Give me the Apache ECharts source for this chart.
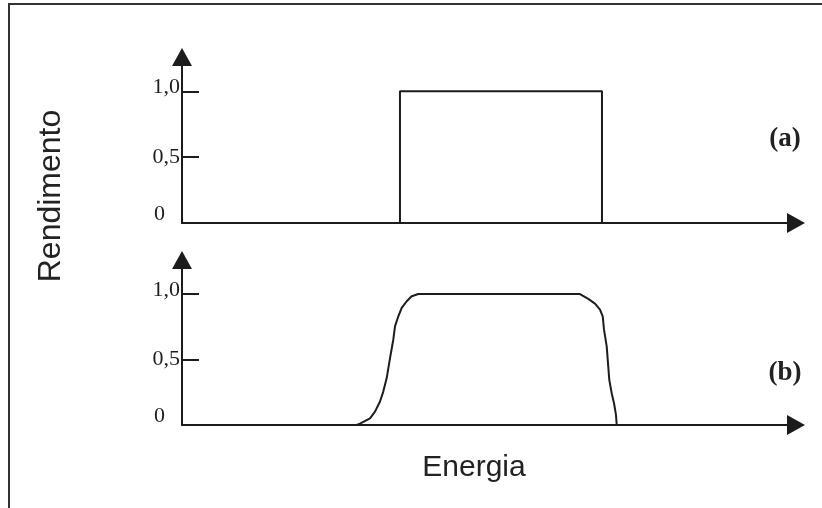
<!DOCTYPE html>
<html>
<head>
<meta charset="utf-8">
<script src="https://cdn.jsdelivr.net/npm/echarts@6/dist/echarts.min.js"></script>
<style>
  html, body { margin: 0; padding: 0; background: #fff; }
  #chart { width: 822px; height: 508px; }
</style>
</head>
<body>
<div id="chart"></div>
<script>
// Ideal (a) and real (b) yield vs. energy windows
const yTickValues = [0, 0.5, 1];
const yTickLabels = ['0', '0,5', '1,0'];
const panelLabels = ['(a)', '(b)'];
const yAxisTitle = 'Rendimento';
const xAxisTitle = 'Energia';

// (a) ideal rectangular window
const rectEnergy = [35.5, 35.5, 68.4, 68.4];
const rectYield = [0, 1, 1, 0];

// (b) real window with soft edges
const curveEnergy = [28.45, 28.99, 30.62, 31.43, 32.25, 32.78, 33.34, 33.88, 34.41, 34.69, 35.23, 35.78, 36.60, 37.41, 38.49,
                     64.82, 66.17, 67.26, 68.08, 68.52, 68.73, 69.17, 69.59, 69.98, 70.36, 70.68, 70.80];
const curveYield = [0, 0.01, 0.051, 0.102, 0.179, 0.255, 0.358, 0.511, 0.651, 0.753, 0.830, 0.894, 0.945, 0.983, 1.0,
                    1.0, 0.963, 0.927, 0.881, 0.830, 0.728, 0.600, 0.345, 0.243, 0.166, 0.077, 0];

const ink = '#1c1c1c';
const serif = "'Liberation Serif', 'DejaVu Serif', serif";
const sans = "'Liberation Sans', Arial, sans-serif";

function pairs(xs, ys) { return xs.map((x, i) => [x, ys[i]]); }

function yLabel(v) {
  const i = yTickValues.indexOf(v);
  const txt = i >= 0 ? yTickLabels[i] : '';
  if (v === 0) return '{z|' + txt + '}';
  if (v === 1) return '{o|' + txt + '}';
  return '{h|' + txt + '}';
}

function makeX(gridIndex) {
  return {
    type: 'value', gridIndex, min: 0, max: 100,
    axisLine: { show: true, symbol: ['none', 'triangle'], symbolSize: [20, 18],
                lineStyle: { color: ink, width: 2 } },
    axisTick: { show: false }, axisLabel: { show: false }, splitLine: { show: false }
  };
}

function makeY(gridIndex) {
  const base = { fontFamily: serif, fontSize: 22, color: '#1e1e1e' };
  return {
    type: 'value', gridIndex, min: 0, max: 1.26,
    axisLine: { show: true, symbol: ['none', 'triangle'], symbolSize: [20, 18],
                lineStyle: { color: ink, width: 2 } },
    axisTick: { show: true, inside: true, length: 17, customValues: yTickValues,
                lineStyle: { color: ink, width: 2 } },
    axisLabel: {
      show: true, margin: 2, customValues: yTickValues, formatter: yLabel,
      rich: {
        z: Object.assign({ padding: [0, 15, 18, 0] }, base),
        o: Object.assign({ padding: [0, 0, 8, 0] }, base),
        h: Object.assign({}, base)
      }
    },
    splitLine: { show: false }
  };
}

const chart = echarts.init(document.getElementById('chart'), null, { renderer: 'canvas' });
chart.setOption({
  backgroundColor: '#fff',
  animation: false,
  grid: [
    { left: 182, right: 26, top: 57, height: 166, containLabel: false, outerBoundsMode: 'none' },
    { left: 182, right: 26, top: 260, height: 165, containLabel: false, outerBoundsMode: 'none' }
  ],
  xAxis: [makeX(0), makeX(1)],
  yAxis: [makeY(0), makeY(1)],
  series: [
    { type: 'line', xAxisIndex: 0, yAxisIndex: 0, data: pairs(rectEnergy, rectYield),
      showSymbol: false, lineStyle: { color: ink, width: 2 } },
    { type: 'line', xAxisIndex: 1, yAxisIndex: 1, data: pairs(curveEnergy, curveYield),
      showSymbol: false, smooth: false, lineStyle: { color: ink, width: 2 } }
  ],
  graphic: [
    { type: 'rect', shape: { x: 9, y: 4, width: 900, height: 600 },
      style: { fill: 'none', stroke: '#333', lineWidth: 2 }, silent: true },
    { type: 'text', x: 51, y: 196, rotation: Math.PI / 2,
      style: { text: yAxisTitle, font: '32px ' + sans, fill: '#222', align: 'center', verticalAlign: 'middle' } },
    { type: 'text', x: 474, y: 468,
      style: { text: xAxisTitle, font: '30px ' + sans, fill: '#222', align: 'center', verticalAlign: 'middle' } },
    { type: 'text', x: 785, y: 139,
      style: { text: panelLabels[0], font: 'bold 27px ' + serif, fill: '#222', align: 'center', verticalAlign: 'middle' } },
    { type: 'text', x: 785, y: 373,
      style: { text: panelLabels[1], font: 'bold 27px ' + serif, fill: '#222', align: 'center', verticalAlign: 'middle' } }
  ]
});
</script>
</body>
</html>
